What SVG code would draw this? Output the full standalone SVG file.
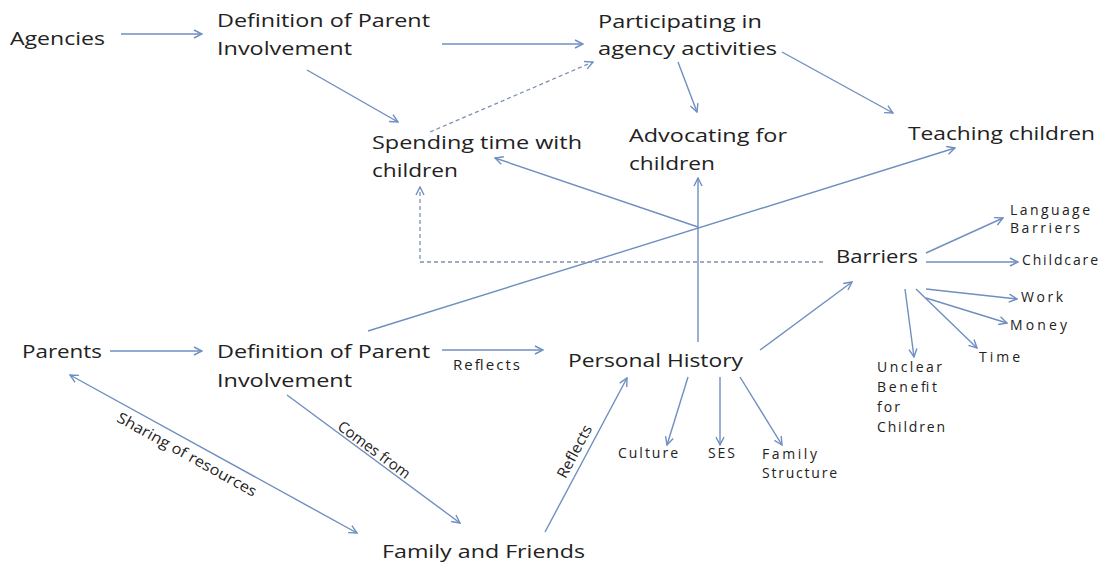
<svg xmlns="http://www.w3.org/2000/svg" width="1102" height="565" viewBox="0 0 1102 565">
  <defs>
    <style>
      .t { font-family: "Open Sans", "Noto Sans", sans-serif; font-size: 19px; fill: #222; }
      .s { font-family: "Open Sans", "Noto Sans", sans-serif; font-size: 14px; fill: #222; }
      .l { font-family: "Open Sans", "Noto Sans", sans-serif; font-size: 15px; fill: #222; }
      .c { fill: none; stroke: #6f8fc0; stroke-width: 1.4; }
      .d { fill: none; stroke: #7d90b0; stroke-width: 1.3; stroke-dasharray: 4 3; }
    </style>
    <marker id="arr" viewBox="0 0 10 10" refX="9" refY="5" markerWidth="10" markerHeight="10" markerUnits="userSpaceOnUse" orient="auto-start-reverse">
      <path d="M1,1 L9,5 L1,9" fill="none" stroke="#6f8fc0" stroke-width="1.4"/>
    </marker>
  </defs>
  <rect width="1102" height="565" fill="#fff"/>

  <g id="connectors">
    <line class="c" x1="121" y1="34" x2="202" y2="34" marker-end="url(#arr)"/>
    <line class="c" x1="442" y1="44" x2="583" y2="44" marker-end="url(#arr)"/>
    <line class="c" x1="307" y1="70" x2="398" y2="122" marker-end="url(#arr)"/>
    <line class="d" x1="430" y1="132" x2="593" y2="62" marker-end="url(#arr)"/>
    <line class="c" x1="678" y1="62" x2="697" y2="112" marker-end="url(#arr)"/>
    <line class="c" x1="782" y1="52" x2="893" y2="113" marker-end="url(#arr)"/>
    <line class="c" x1="698" y1="342" x2="698" y2="178" marker-end="url(#arr)"/>
    <line class="c" x1="698" y1="227" x2="495" y2="158" marker-end="url(#arr)"/>
    <line class="c" x1="368" y1="331" x2="955" y2="148" marker-end="url(#arr)"/>
    <polyline class="d" points="823,262 420,262 420,187" marker-end="url(#arr)"/>
    <line class="c" x1="110" y1="351" x2="202" y2="351" marker-end="url(#arr)"/>
    <line class="c" x1="442" y1="350" x2="543" y2="350" marker-end="url(#arr)"/>
    <line class="c" x1="760" y1="350" x2="852" y2="282" marker-end="url(#arr)"/>
    <line class="c" x1="926" y1="253" x2="1003" y2="218" marker-end="url(#arr)"/>
    <line class="c" x1="926" y1="262" x2="1018" y2="262" marker-end="url(#arr)"/>
    <line class="c" x1="926" y1="289" x2="1017" y2="299" marker-end="url(#arr)"/>
    <line class="c" x1="926" y1="298" x2="1007" y2="323" marker-end="url(#arr)"/>
    <line class="c" x1="916" y1="289" x2="977" y2="348" marker-end="url(#arr)"/>
    <line class="c" x1="905" y1="289" x2="914" y2="357" marker-end="url(#arr)"/>
    <line class="c" x1="688" y1="377" x2="667" y2="445" marker-end="url(#arr)"/>
    <line class="c" x1="720" y1="377" x2="720" y2="445" marker-end="url(#arr)"/>
    <line class="c" x1="740" y1="377" x2="782" y2="445" marker-end="url(#arr)"/>
    <line class="c" x1="70" y1="375" x2="357" y2="533" marker-start="url(#arr)" marker-end="url(#arr)"/>
    <line class="c" x1="287" y1="395" x2="460" y2="523" marker-end="url(#arr)"/>
    <line class="c" x1="545" y1="532" x2="627" y2="378" marker-end="url(#arr)"/>
    <!-- edge labels -->
    <text class="l" x="453" y="370" textLength="67" lengthAdjust="spacing">Reflects</text>
    <text class="l" text-anchor="middle" transform="translate(184.5,459) rotate(29)" textLength="157" lengthAdjust="spacingAndGlyphs">Sharing of resources</text>
    <text class="l" text-anchor="middle" transform="translate(371,454) rotate(36.5)" textLength="86" lengthAdjust="spacingAndGlyphs">Comes from</text>
    <text class="l" text-anchor="middle" transform="translate(579,454) rotate(-62)" textLength="58" lengthAdjust="spacingAndGlyphs">Reflects</text>
  </g>

  <g id="agencies"><text class="t" x="10" y="45" textLength="95" lengthAdjust="spacingAndGlyphs">Agencies</text></g>
  <g id="agency-definition">
    <text class="t" x="217" y="27" textLength="213" lengthAdjust="spacingAndGlyphs">Definition of Parent</text>
    <text class="t" x="217" y="55" textLength="135" lengthAdjust="spacingAndGlyphs">Involvement</text>
  </g>
  <g id="participating">
    <text class="t" x="598" y="28" textLength="164" lengthAdjust="spacingAndGlyphs">Participating in</text>
    <text class="t" x="598" y="55" textLength="179" lengthAdjust="spacingAndGlyphs">agency activities</text>
  </g>
  <g id="spending">
    <text class="t" x="372" y="149" textLength="210" lengthAdjust="spacingAndGlyphs">Spending time with</text>
    <text class="t" x="372" y="177" textLength="86" lengthAdjust="spacingAndGlyphs">children</text>
  </g>
  <g id="advocating">
    <text class="t" x="629" y="142" textLength="158" lengthAdjust="spacingAndGlyphs">Advocating for</text>
    <text class="t" x="629" y="170" textLength="86" lengthAdjust="spacingAndGlyphs">children</text>
  </g>
  <g id="teaching"><text class="t" x="908" y="140" textLength="187" lengthAdjust="spacingAndGlyphs">Teaching children</text></g>
  <g id="barriers"><text class="t" x="836" y="263" textLength="82" lengthAdjust="spacingAndGlyphs">Barriers</text></g>
  <g id="parents"><text class="t" x="22" y="358" textLength="80" lengthAdjust="spacingAndGlyphs">Parents</text></g>
  <g id="parent-definition">
    <text class="t" x="217" y="358" textLength="213" lengthAdjust="spacingAndGlyphs">Definition of Parent</text>
    <text class="t" x="217" y="387" textLength="135" lengthAdjust="spacingAndGlyphs">Involvement</text>
  </g>
  <g id="personal-history"><text class="t" x="568" y="367" textLength="175" lengthAdjust="spacingAndGlyphs">Personal History</text></g>
  <g id="family-friends"><text class="t" x="382" y="558" textLength="203" lengthAdjust="spacingAndGlyphs">Family and Friends</text></g>

  <g id="language-barriers">
    <text class="s" x="1010" y="215" textLength="80" lengthAdjust="spacing">Language</text>
    <text class="s" x="1010" y="233" textLength="70" lengthAdjust="spacing">Barriers</text>
  </g>
  <g id="childcare"><text class="s" x="1022" y="265" textLength="76" lengthAdjust="spacing">Childcare</text></g>
  <g id="work"><text class="s" x="1021" y="302" textLength="42" lengthAdjust="spacing">Work</text></g>
  <g id="money"><text class="s" x="1010" y="330" textLength="57" lengthAdjust="spacing">Money</text></g>
  <g id="time"><text class="s" x="979" y="362" textLength="41" lengthAdjust="spacing">Time</text></g>
  <g id="unclear-benefit">
    <text class="s" x="877" y="372" textLength="65" lengthAdjust="spacing">Unclear</text>
    <text class="s" x="877" y="392" textLength="60" lengthAdjust="spacing">Benefit</text>
    <text class="s" x="877" y="412" textLength="23" lengthAdjust="spacing">for</text>
    <text class="s" x="877" y="432" textLength="68" lengthAdjust="spacing">Children</text>
  </g>
  <g id="culture"><text class="s" x="618" y="458" textLength="60" lengthAdjust="spacing">Culture</text></g>
  <g id="ses"><text class="s" x="708" y="458" textLength="27" lengthAdjust="spacing">SES</text></g>
  <g id="family-structure">
    <text class="s" x="762" y="459" textLength="55" lengthAdjust="spacing">Family</text>
    <text class="s" x="762" y="478" textLength="75" lengthAdjust="spacing">Structure</text>
  </g>
</svg>
